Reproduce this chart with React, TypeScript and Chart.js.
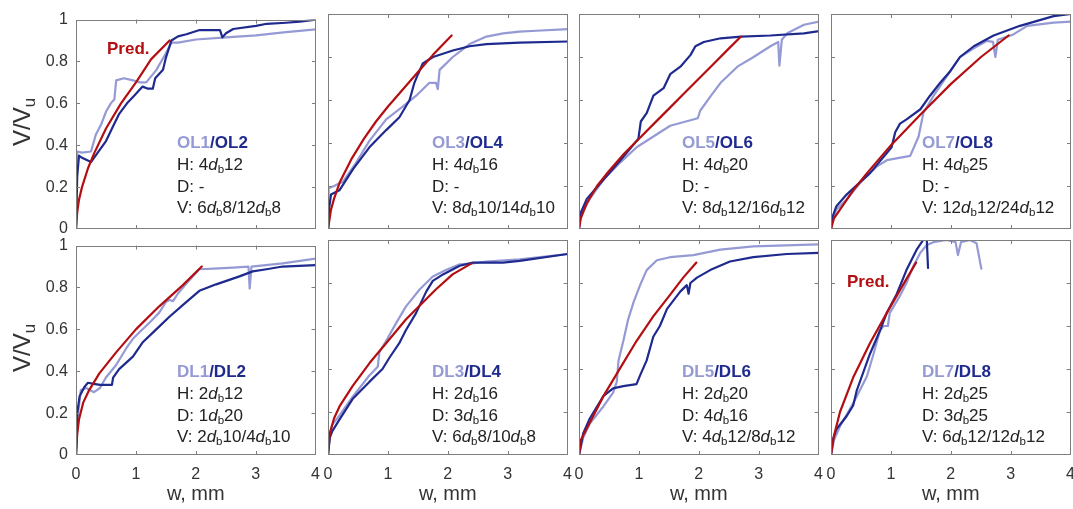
import React, { useEffect, useRef } from "react";
import { Chart, registerables } from "chart.js";
Chart.register(...registerables);

type Pt = [number, number];

// ---------- data (w in mm, V/Vu) ----------
const PRED1: Pt[] = [[0,0],[0.02,0.08],[0.05,0.14],[0.1,0.2],[0.2,0.29],[0.3,0.36],[0.5,0.48],[0.75,0.6],[1.0,0.7],[1.25,0.81],[1.56,0.9]];
const OL1: Pt[] = [[0,0],[0.02,0.37],[0.1,0.365],[0.25,0.37],[0.33,0.45],[0.42,0.5],[0.5,0.56],[0.58,0.6],[0.64,0.62],[0.67,0.71],[0.8,0.72],[0.95,0.71],[1.06,0.7],[1.17,0.7],[1.34,0.76],[1.5,0.84],[1.59,0.89],[1.7,0.89],[2.0,0.905],[2.5,0.915],[3.0,0.925],[3.5,0.94],[4.0,0.953]];
const OL2: Pt[] = [[0,0],[0.02,0.25],[0.05,0.35],[0.1,0.34],[0.25,0.32],[0.35,0.36],[0.5,0.42],[0.6,0.48],[0.72,0.55],[0.85,0.6],[0.95,0.63],[1.11,0.68],[1.2,0.67],[1.28,0.67],[1.32,0.72],[1.45,0.76],[1.5,0.82],[1.59,0.9],[1.7,0.92],[1.84,0.93],[2.06,0.95],[2.4,0.95],[2.44,0.915],[2.5,0.935],[2.62,0.955],[3.0,0.97],[3.18,0.98],[3.5,0.985],[3.73,0.99],[4.0,1.0]];

const PRED2: Pt[] = [[0,0],[0.05,0.09],[0.1,0.14],[0.2,0.22],[0.4,0.33],[0.6,0.42],[0.8,0.5],[1.0,0.57],[1.25,0.65],[1.5,0.73],[1.75,0.81],[2.06,0.9]];
const OL3: Pt[] = [[0,0],[0.01,0.19],[0.1,0.2],[0.25,0.22],[0.45,0.3],[0.69,0.41],[0.97,0.51],[1.25,0.57],[1.47,0.62],[1.69,0.68],[1.8,0.68],[1.83,0.65],[1.86,0.74],[2.08,0.8],[2.36,0.86],[2.64,0.895],[2.92,0.91],[3.19,0.918],[3.47,0.922],[4,0.93]];
const OL4: Pt[] = [[0,0],[0.02,0.1],[0.05,0.16],[0.19,0.18],[0.42,0.28],[0.69,0.38],[0.97,0.46],[1.19,0.52],[1.36,0.6],[1.44,0.68],[1.5,0.72],[1.58,0.77],[1.75,0.8],[2.08,0.83],[2.36,0.85],[2.64,0.86],[3.19,0.867],[4,0.872]];

const PRED3: Pt[] = [[0,0],[0.03,0.05],[0.13,0.12],[0.3,0.2],[0.5,0.27],[0.75,0.35],[1.0,0.42],[1.25,0.49],[1.5,0.56],[1.75,0.63],[2.0,0.7],[2.25,0.77],[2.5,0.84],[2.7,0.895]];
const OL5: Pt[] = [[0,0],[0.02,0.06],[0.18,0.14],[0.41,0.23],[0.69,0.31],[0.96,0.38],[1.24,0.43],[1.52,0.48],[1.98,0.515],[2.02,0.55],[2.2,0.62],[2.36,0.68],[2.64,0.755],[2.91,0.8],[3.19,0.85],[3.32,0.87],[3.34,0.76],[3.38,0.88],[3.47,0.91],[3.75,0.95],[4,0.965]];
const OL6: Pt[] = [[0,0],[0.02,0.07],[0.13,0.14],[0.41,0.23],[0.69,0.32],[0.99,0.42],[1.03,0.5],[1.13,0.54],[1.24,0.62],[1.41,0.655],[1.52,0.72],[1.69,0.755],[1.86,0.81],[1.94,0.85],[2.08,0.87],[2.36,0.887],[2.7,0.895],[3.19,0.9],[3.75,0.91],[4,0.92]];

const PRED4: Pt[] = [[0,0],[0.05,0.05],[0.15,0.09],[0.37,0.18],[0.6,0.26],[1.0,0.39],[1.5,0.535],[2.0,0.675],[2.5,0.8],[2.96,0.9]];
const OL7: Pt[] = [[0,0],[0.03,0.05],[0.09,0.09],[0.26,0.137],[0.5,0.22],[0.76,0.29],[0.93,0.32],[1.32,0.34],[1.46,0.43],[1.54,0.54],[1.71,0.62],[1.93,0.71],[2.15,0.8],[2.38,0.84],[2.6,0.875],[2.7,0.87],[2.74,0.8],[2.78,0.88],[3.04,0.905],[3.27,0.945],[3.71,0.96],[4,0.965]];
const OL8: Pt[] = [[0,0],[0.03,0.06],[0.09,0.106],[0.26,0.16],[0.65,0.26],[1.01,0.38],[1.07,0.45],[1.15,0.49],[1.26,0.51],[1.49,0.557],[1.65,0.62],[1.82,0.68],[1.99,0.735],[2.15,0.8],[2.38,0.85],[2.71,0.9],[3.15,0.945],[3.71,0.99],[4,1.0]];

const PRED5: Pt[] = [[0,0],[0.02,0.1],[0.05,0.17],[0.12,0.25],[0.22,0.31],[0.39,0.39],[0.67,0.49],[1.0,0.6],[1.39,0.71],[1.78,0.81],[2.1,0.9]];
const DL1: Pt[] = [[0,0],[0.03,0.185],[0.08,0.31],[0.17,0.32],[0.3,0.3],[0.4,0.32],[0.5,0.37],[0.67,0.43],[0.84,0.51],[0.95,0.555],[1.06,0.586],[1.23,0.633],[1.39,0.68],[1.5,0.73],[1.56,0.74],[1.62,0.735],[1.7,0.77],[1.84,0.818],[2.06,0.887],[2.3,0.89],[2.62,0.895],[2.88,0.9],[2.9,0.795],[2.93,0.9],[3.45,0.915],[4,0.938]];
const DL2: Pt[] = [[0,0],[0.02,0.2],[0.06,0.28],[0.14,0.325],[0.2,0.345],[0.3,0.34],[0.4,0.335],[0.6,0.335],[0.62,0.37],[0.72,0.41],[0.95,0.47],[1.11,0.537],[1.34,0.6],[1.56,0.66],[1.84,0.73],[2.06,0.784],[2.34,0.815],[2.73,0.853],[2.95,0.877],[3.18,0.887],[3.45,0.9],[4,0.907]];

const PRED6: Pt[] = [[0,0],[0.03,0.1],[0.1,0.17],[0.2,0.23],[0.41,0.32],[0.7,0.43],[0.97,0.52],[1.3,0.63],[1.55,0.7],[1.8,0.77],[2.08,0.84],[2.39,0.89]];
const DL3: Pt[] = [[0,0],[0.03,0.1],[0.07,0.14],[0.18,0.18],[0.41,0.27],[0.69,0.37],[0.83,0.41],[0.86,0.48],[0.97,0.53],[1.13,0.61],[1.3,0.69],[1.53,0.77],[1.75,0.83],[1.97,0.86],[2.2,0.887],[2.39,0.89],[2.64,0.9],[3.2,0.91],[4,0.935]];
const DL4: Pt[] = [[0,0],[0.03,0.08],[0.07,0.11],[0.18,0.16],[0.41,0.26],[0.69,0.34],[0.91,0.4],[1.02,0.45],[1.19,0.52],[1.3,0.58],[1.47,0.66],[1.64,0.76],[1.75,0.81],[1.92,0.84],[2.2,0.88],[2.42,0.895],[2.92,0.895],[3.2,0.903],[4,0.935]];

const PRED7: Pt[] = [[0,0],[0.03,0.07],[0.18,0.15],[0.41,0.275],[0.69,0.405],[0.96,0.53],[1.24,0.645],[1.52,0.745],[1.74,0.825],[1.96,0.895]];
const DL5: Pt[] = [[0,0],[0.07,0.08],[0.18,0.146],[0.41,0.227],[0.57,0.29],[0.63,0.34],[0.66,0.44],[0.74,0.53],[0.82,0.63],[0.91,0.71],[1.02,0.79],[1.13,0.86],[1.3,0.906],[1.52,0.92],[1.91,0.93],[2.36,0.955],[2.91,0.97],[4,0.98]];
const DL6: Pt[] = [[0,0],[0.07,0.1],[0.18,0.17],[0.41,0.275],[0.57,0.31],[0.74,0.32],[0.96,0.33],[1.02,0.37],[1.13,0.44],[1.24,0.55],[1.35,0.6],[1.47,0.68],[1.69,0.76],[1.8,0.79],[1.83,0.75],[1.86,0.8],[1.97,0.825],[2.19,0.86],[2.52,0.9],[2.91,0.92],[3.47,0.935],[4,0.94]];

const PRED8: Pt[] = [[0,0],[0.05,0.09],[0.15,0.2],[0.37,0.36],[0.65,0.52],[0.93,0.66],[1.2,0.79],[1.42,0.895]];
const DL7: Pt[] = [[0,0],[0.05,0.07],[0.15,0.134],[0.37,0.24],[0.6,0.366],[0.71,0.47],[0.82,0.58],[0.88,0.6],[0.95,0.6],[0.98,0.66],[1.15,0.74],[1.26,0.8],[1.37,0.875],[1.49,0.94],[1.6,0.977],[1.71,0.99],[1.93,1.0],[2.08,0.99],[2.12,0.93],[2.17,0.99],[2.32,1.0],[2.43,0.985],[2.51,0.867]];
const DL8: Pt[] = [[0,0],[0.03,0.07],[0.09,0.12],[0.26,0.18],[0.37,0.23],[0.43,0.3],[0.65,0.47],[0.82,0.58],[0.93,0.66],[1.1,0.75],[1.26,0.86],[1.43,0.955],[1.54,1.0],[1.6,1.0],[1.62,0.87]];

const predSeries: Pt[][] = [PRED1, PRED2, PRED3, PRED4, PRED5, PRED6, PRED7, PRED8];
const oddSeries: Pt[][] = [OL1, OL3, OL5, OL7, DL1, DL3, DL5, DL7];
const evenSeries: Pt[][] = [OL2, OL4, OL6, OL8, DL2, DL4, DL6, DL8];

const oddNames = ["OL1", "OL3", "OL5", "OL7", "DL1", "DL3", "DL5", "DL7"];
const evenNames = ["OL2", "OL4", "OL6", "OL8", "DL2", "DL4", "DL6", "DL8"];
const hLabels = ["4d_b12", "4d_b16", "4d_b20", "4d_b25", "2d_b12", "2d_b16", "2d_b20", "2d_b25"];
const dLabels = ["-", "-", "-", "-", "1d_b20", "3d_b16", "4d_b16", "3d_b25"];
const vLabels = ["6d_b8/12d_b8", "8d_b10/14d_b10", "8d_b12/16d_b12", "12d_b12/24d_b12", "2d_b10/4d_b10", "6d_b8/10d_b8", "4d_b12/8d_b12", "6d_b12/12d_b12"];
const predLabelPanels = [0, 7];

const xTicks = [0, 1, 2, 3, 4];
const yTicks = [0, 0.2, 0.4, 0.6, 0.8, 1];
const xTitle = "w, mm";

// ---------- layout & style ----------
const LIGHT = "#959ad4";
const DARK = "#1f2a8e";
const RED = "#b30f12";
const FONT = "'Liberation Sans', Arial, Helvetica, sans-serif";
const COL_LEFT = [76, 328, 579, 831];
const ROW_TOP = [14, 240];
const PW = 240;
const PH = 215;
const PADL = 70, PADR = 14, PADT = 12, PADB = 58;
const ANN_LEFT = [177, 432, 682, 922];
const ANN_CENTER = [143, 372];
const PRED_POS: Record<number, [number, number]> = { 0: [107, 49], 7: [847, 282] };

const boxPlugin = {
  id: "boxTicks",
  afterDraw(chart: any) {
    const { ctx, chartArea: a, scales } = chart;
    const xs = scales.x, ys = scales.y;
    ctx.save();
    ctx.strokeStyle = "#7d7d7d";
    ctx.lineWidth = 1;
    ctx.strokeRect(Math.round(a.left) + 0.5, Math.round(a.top) + 0.5, Math.round(a.right - a.left) - 1, Math.round(a.bottom - a.top) - 1);
    ctx.beginPath();
    const L = 4;
    xTicks.slice(1, -1).forEach((v) => {
      const px = Math.round(xs.getPixelForValue(v)) + 0.5;
      ctx.moveTo(px, a.bottom); ctx.lineTo(px, a.bottom - L);
      ctx.moveTo(px, a.top); ctx.lineTo(px, a.top + L);
    });
    yTicks.slice(1, -1).forEach((v) => {
      const py = Math.round(ys.getPixelForValue(v)) + 0.5;
      ctx.moveTo(a.left, py); ctx.lineTo(a.left + L, py);
      ctx.moveTo(a.right, py); ctx.lineTo(a.right - L, py);
    });
    ctx.stroke();
    ctx.restore();
  },
};

function toXY(s: Pt[]) {
  return s.map(([x, y]) => ({ x, y }));
}

function Panel({ idx }: { idx: number }) {
  const ref = useRef<HTMLCanvasElement>(null);
  const col = idx % 4;
  const row = Math.floor(idx / 4);
  const leftCol = col === 0;
  const bottomRow = row === 1;
  useEffect(() => {
    if (!ref.current) return;
    const chart = new Chart(ref.current, {
      type: "line",
      data: {
        datasets: [
          { data: toXY(predSeries[idx]), borderColor: RED, borderWidth: 2.2 },
          { data: toXY(evenSeries[idx]), borderColor: DARK, borderWidth: 2.2 },
          { data: toXY(oddSeries[idx]), borderColor: LIGHT, borderWidth: 2.2 },
        ],
      },
      options: {
        responsive: false,
        animation: false,
        layout: { padding: { top: PADT, right: PADR, left: 0, bottom: 0 } },
        plugins: { legend: { display: false }, tooltip: { enabled: false } },
        elements: {
          point: { radius: 0 },
          line: { tension: 0, borderJoinStyle: "round", borderCapStyle: "round" },
        },
        scales: {
          x: {
            type: "linear",
            min: 0,
            max: 4,
            afterFit: (s: any) => { s.height = PADB; },
            afterBuildTicks: (s: any) => { s.ticks = xTicks.map((v) => ({ value: v })); },
            grid: { display: false, drawTicks: false },
            border: { display: false },
            ticks: {
              display: bottomRow,
              padding: 10,
              color: "#333",
              maxRotation: 0,
              autoSkip: false,
              font: { family: FONT, size: 16 },
              callback: (v: any) => String(v),
            },
            title: {
              display: bottomRow,
              text: xTitle,
              color: "#333",
              font: { family: FONT, size: 20 },
              padding: { top: 0, bottom: 7 },
            },
          },
          y: {
            type: "linear",
            min: 0,
            max: 1,
            afterFit: (s: any) => { s.width = PADL; },
            afterBuildTicks: (s: any) => { s.ticks = yTicks.map((v) => ({ value: v })); },
            grid: { display: false, drawTicks: false },
            border: { display: false },
            ticks: {
              display: leftCol,
              padding: 8,
              color: "#333",
              autoSkip: false,
              font: { family: FONT, size: 16 },
              callback: (v: any) => String(+Number(v).toFixed(1)),
            },
          },
        },
      } as any,
      plugins: [boxPlugin],
    });
    return () => chart.destroy();
  }, [idx]);
  const w = PADL + PW + PADR;
  const h = PADT + PH + PADB;
  return (
    <canvas
      ref={ref}
      width={w}
      height={h}
      style={{ position: "absolute", left: COL_LEFT[col] - PADL, top: ROW_TOP[row] - PADT, width: w, height: h }}
    />
  );
}

const subStyle: React.CSSProperties = { fontSize: "0.68em", position: "relative", top: "0.28em", verticalAlign: "baseline", lineHeight: 0 };

function Reinf({ s }: { s: string }) {
  const parts = s.split("d_b");
  return (
    <>
      {parts.map((p, i) => (
        <React.Fragment key={i}>
          {i > 0 && (
            <>
              <i>d</i>
              <sub style={subStyle}>b</sub>
            </>
          )}
          {p}
        </React.Fragment>
      ))}
    </>
  );
}

function Annotation({ idx }: { idx: number }) {
  const col = idx % 4;
  const row = Math.floor(idx / 4);
  const lh = 21.7;
  return (
    <div
      style={{
        position: "absolute",
        left: ANN_LEFT[col],
        top: ANN_CENTER[row] - lh / 2,
        fontFamily: FONT,
        fontSize: 17,
        lineHeight: lh + "px",
        color: "#222",
        whiteSpace: "nowrap",
      }}
    >
      <div style={{ fontWeight: "bold" }}>
        <span style={{ color: LIGHT }}>{oddNames[idx]}</span>
        <span style={{ color: DARK }}>/{evenNames[idx]}</span>
      </div>
      <div>H: <Reinf s={hLabels[idx]} /></div>
      <div>D: <Reinf s={dLabels[idx]} /></div>
      <div>V: <Reinf s={vLabels[idx]} /></div>
    </div>
  );
}

function YTitle({ row }: { row: number }) {
  return (
    <div
      style={{
        position: "absolute",
        left: 22,
        top: ROW_TOP[row] + PH / 2,
        transform: "translate(-50%, -50%) rotate(-90deg)",
        fontFamily: FONT,
        fontSize: 24,
        color: "#333",
        whiteSpace: "nowrap",
        lineHeight: 1,
      }}
    >
      V/V<sub style={{ fontSize: "0.7em", position: "relative", top: "0.3em", verticalAlign: "baseline", lineHeight: 0 }}>u</sub>
    </div>
  );
}

export default function App() {
  const ids = [0, 1, 2, 3, 4, 5, 6, 7];
  return (
    <div style={{ position: "absolute", left: 0, top: 0, width: 1073, height: 509, background: "#fff", overflow: "hidden" }}>
      {ids.map((i) => <Panel key={"p" + i} idx={i} />)}
      {ids.map((i) => <Annotation key={"a" + i} idx={i} />)}
      <YTitle row={0} />
      <YTitle row={1} />
      {predLabelPanels.map((i) => (
        <div
          key={"pr" + i}
          style={{
            position: "absolute",
            left: PRED_POS[i][0],
            top: PRED_POS[i][1] - 10,
            lineHeight: "20px",
            fontFamily: FONT,
            fontSize: 17,
            fontWeight: "bold",
            color: RED,
            whiteSpace: "nowrap",
          }}
        >
          Pred.
        </div>
      ))}
    </div>
  );
}
